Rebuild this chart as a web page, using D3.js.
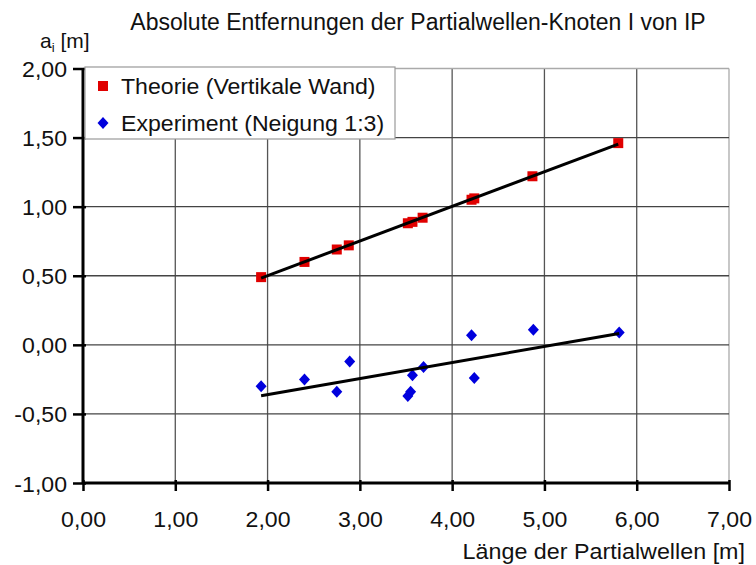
<!DOCTYPE html>
<html><head><meta charset="utf-8">
<script src="https://cdn.jsdelivr.net/npm/d3@7"></script>
<style>
body{margin:0;background:#fff;}
text{font-family:Arial,"Liberation Sans",sans-serif;fill:#111;}
</style></head>
<body><svg id="c" width="756" height="565"></svg>
<script>
const titleText = "Absolute Entfernungen der Partialwellen-Knoten I von IP";
const xLabel = "Länge der Partialwellen [m]";
const seriesNames = ["Theorie (Vertikale Wand)", "Experiment (Neigung 1:3)"];
const xTicks = [0,1,2,3,4,5,6,7];
const yTicks = [-1,-0.5,0,0.5,1,1.5,2];
const theoryX = [1.93,2.40,2.75,2.88,3.52,3.57,3.68,4.21,4.24,4.87,5.80];
const theoryY = [0.49,0.60,0.69,0.72,0.88,0.89,0.92,1.05,1.06,1.22,1.46];
const expX = [1.93,2.40,2.75,2.89,3.52,3.55,3.57,3.69,4.21,4.24,4.88,5.81];
const expY = [-0.30,-0.25,-0.34,-0.12,-0.37,-0.34,-0.22,-0.16,0.07,-0.24,0.11,0.09];

const svg = d3.select("#c");
const L=83, R=729, T=68.5, B=483;
const x = d3.scaleLinear().domain([0,7]).range([L,R]);
const y = d3.scaleLinear().domain([-1,2]).range([B,T]);
const fmt = d => d.toFixed(2).replace(".", ",");

// grid
svg.append("g").selectAll("line").data(xTicks.slice(1)).join("line")
  .attr("x1",d=>x(d)).attr("x2",d=>x(d)).attr("y1",T).attr("y2",B)
  .attr("stroke",d=>d===7?"#aaa":"#555").attr("stroke-width",1.3);
svg.append("g").selectAll("line").data(yTicks.slice(1)).join("line")
  .attr("x1",L).attr("x2",R).attr("y1",d=>y(d)).attr("y2",d=>y(d))
  .attr("stroke",d=>d===2?"#aaa":"#444").attr("stroke-width",1.3);

// axes
const yAxis = d3.axisLeft(y).tickValues(yTicks).tickFormat(fmt).tickSize(10).tickPadding(0);
const gy = svg.append("g").attr("transform",`translate(${L},0)`).call(yAxis);
const xAxis = d3.axisBottom(x).tickValues(xTicks).tickFormat(fmt).tickSize(8).tickPadding(0);
const gx = svg.append("g").attr("transform",`translate(0,${B})`).call(xAxis);
[gx,gy].forEach(g=>{
  g.select(".domain").attr("stroke","#000").attr("stroke-width",3);
  g.selectAll(".tick line").attr("stroke","#000").attr("stroke-width",2.5);
  g.selectAll(".tick text").attr("font-size",22).attr("fill","#111");
});
gy.select(".domain").attr("d",`M0,${T}V${B}`);
gx.select(".domain").attr("d",`M${L},0H${R}`);
gy.selectAll(".tick line").attr("x1",3);
gx.selectAll(".tick line").attr("y1",-3);
gy.selectAll(".tick text").attr("x",null).attr("dy",null)
  .attr("transform","translate(-16,8) scale(1.05,1)");
gx.selectAll(".tick text").attr("y",null).attr("dy",null)
  .attr("transform","translate(0,44) scale(1.05,1)");

// regression lines
function reg(xs, ys){
  const n=xs.length, mx=d3.mean(xs), my=d3.mean(ys);
  let sxy=0,sxx=0; for(let i=0;i<n;i++){sxy+=(xs[i]-mx)*(ys[i]-my);sxx+=(xs[i]-mx)**2;}
  const b=sxy/sxx, a=my-b*mx; const x0=d3.min(xs), x1=d3.max(xs);
  return [[x0,a+b*x0],[x1,a+b*x1]];
}

// points
svg.append("g").selectAll("rect").data(theoryX.map((d,i)=>[d,theoryY[i]])).join("rect")
  .attr("x",d=>x(d[0])-5).attr("y",d=>y(d[1])-5).attr("width",10).attr("height",10).attr("fill","#e00000");
svg.append("g").selectAll("path").data(expX.map((d,i)=>[d,expY[i]])).join("path")
  .attr("d",d=>`M${x(d[0])},${y(d[1])-6}l5.5,6l-5.5,6l-5.5,-6z`).attr("fill","#0000dd");

const line = d3.line().x(d=>x(d[0])).y(d=>y(d[1]));
svg.append("path").attr("d",line(reg(theoryX,theoryY))).attr("stroke","#000").attr("stroke-width",3).attr("fill","none");
svg.append("path").attr("d",line(reg(expX,expY))).attr("stroke","#000").attr("stroke-width",3).attr("fill","none");

// legend
svg.append("rect").attr("x",85).attr("y",67).attr("width",310).attr("height",72)
  .attr("fill","#fff").attr("stroke","#999").attr("stroke-width",1.2);
svg.append("rect").attr("x",98).attr("y",81).attr("width",10).attr("height",10).attr("fill","#e00000");
svg.append("path").attr("d",`M103,${123-6}l5.5,6l-5.5,6l-5.5,-6z`).attr("fill","#0000dd");
svg.append("text").attr("transform","translate(121,94) scale(1.05,1)").attr("font-size",22).text(seriesNames[0]);
svg.append("text").attr("transform","translate(121,131) scale(1.05,1)").attr("font-size",22).text(seriesNames[1]);

// titles
svg.append("text").attr("x",418).attr("y",30).attr("text-anchor","middle").attr("font-size",23).text(titleText);
const yl = svg.append("text").attr("x",40).attr("y",48).attr("font-size",21);
yl.append("tspan").text("a");
yl.append("tspan").attr("font-size",13).attr("dy",4).text("i");
yl.append("tspan").attr("dy",-4).text(" [m]");
svg.append("text").attr("transform","translate(745,559) scale(1.06,1)").attr("text-anchor","end").attr("font-size",22).text(xLabel);
</script></body></html>
